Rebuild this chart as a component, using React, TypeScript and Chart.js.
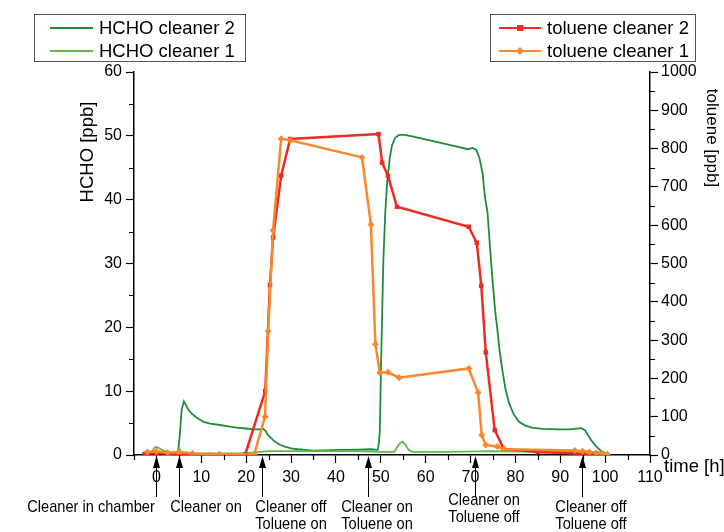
import React, { useEffect, useRef } from 'react';
import { Chart, registerables } from 'chart.js';

Chart.register(...registerables);

const FONT = '"Liberation Sans", Arial, Helvetica, sans-serif';

// HCHO cleaner 2 (left axis, ppb)
const hchoC2Time = [-3.2, -1, 0, 2, 4.8, 5.2, 5.6, 6.1, 6.6, 7.2, 8, 8.7, 9.5, 10.5, 12, 14.2, 16, 17.9, 20, 21.5, 23, 23.8, 24.3, 24.9, 25.6, 26.4, 27.5, 28.6, 30, 31.5, 35, 41, 45, 47.7, 49.3, 49.6, 49.8, 50.0, 50.3, 50.6, 51.0, 51.4, 52.0, 52.5, 53.2, 54, 55, 57, 60.2, 65.3, 69.4, 70.5, 71.3, 72, 72.7, 73.2, 73.8, 74.3, 74.9, 75.5, 76, 76.5, 77.1, 77.8, 78.6, 79.6, 80.8, 82.2, 83.7, 86, 89.6, 92, 94.7, 95.5, 96.2, 96.9, 97.8, 98.8, 99.5, 100];
const hchoC2Ppb = [0.3, 0.3, 0.4, 0.3, 0.4, 3, 7, 8.4, 7.8, 7.0, 6.4, 6.0, 5.6, 5.2, 4.9, 4.7, 4.5, 4.3, 4.15, 4.0, 4.0, 4.1, 3.8, 3.1, 2.6, 2.1, 1.6, 1.3, 1.05, 0.9, 0.7, 0.8, 0.85, 0.9, 0.8, 2, 4, 12, 22, 31, 38, 42.5, 46.5, 48.5, 49.7, 50.1, 50.2, 49.9, 49.4, 48.6, 47.9, 48.1, 47.8, 46.5, 44.1, 40.5, 37.9, 33, 27.4, 22.5, 19.6, 16.2, 13.3, 10.3, 8.1, 6.4, 5.2, 4.6, 4.3, 4.1, 4.0, 4.0, 4.2, 3.9, 3.1, 2.3, 1.5, 0.8, 0.4, 0.3];

// HCHO cleaner 1 (left axis, ppb)
const hchoC1Time = [-3.2, -1, -0.6, -0.1, 0.5, 1.5, 3, 4.8, 5.1, 5.5, 10, 20, 22, 25, 35, 45, 50, 53, 53.7, 54.3, 54.9, 55.5, 56.2, 57, 65, 75, 85, 95, 100];
const hchoC1Ppb = [0.2, 0.4, 1.0, 1.3, 1.1, 0.7, 0.4, 0.4, 1.0, 0.4, 0.2, 0.3, 0.4, 0.6, 0.6, 0.6, 0.5, 0.5, 1.3, 1.9, 2.1, 1.6, 0.8, 0.5, 0.5, 0.6, 0.5, 0.5, 0.4];

// toluene cleaner 2 (right axis, ppb)
const tolC2Time = [-2.5, 0, 5, 12, 19.8, 24.25, 25.3, 26, 27.8, 29.8, 49.5, 50.3, 51.6, 53.6, 69.6, 71.4, 72.4, 73.4, 75.4, 77.4, 85, 95, 99];
const tolC2Ppb = [3, 5, 2, 0, 2, 167, 444, 568, 729, 825, 838, 763, 729, 648, 596, 554, 442, 268, 65, 16, 8, 3, 1];

// toluene cleaner 1 (right axis, ppb)
const tolC1Time = [-2, 0, 2.5, 5, 8, 14, 21.8, 24.2, 24.9, 26, 27.8, 29.8, 45.8, 47.8, 48.8, 49.8, 51.6, 54.1, 69.6, 71.7, 72.5, 73.4, 76, 77.4, 93.2, 95, 96.5, 98, 99.5, 100.5];
const tolC1Ppb = [8, 10, 6, 8, 4, 2, 2, 100, 324, 587, 826, 822, 777, 602, 289, 215, 216, 202, 226, 163, 52, 26, 22, 15, 12, 10, 8, 6, 3, 2];

const timeTicks = [0, 10, 20, 30, 40, 50, 60, 70, 80, 90, 100, 110];
const timeMinorTicks = [-5, 5, 15, 25, 35, 45, 55, 65, 75, 85, 95, 105];
const hchoTicks = [0, 10, 20, 30, 40, 50, 60];
const hchoMinorTicks = [5, 15, 25, 35, 45, 55];
const tolueneTicks = [0, 100, 200, 300, 400, 500, 600, 700, 800, 900, 1000];
const tolueneMinorTicks = [50, 150, 250, 350, 450, 550, 650, 750, 850, 950];

const eventTimes = [0, 5.1, 23.6, 47.2, 70.9, 94.9];
const eventLabels = [
  ['Cleaner in chamber'],
  ['Cleaner on'],
  ['Cleaner off', 'Toluene on'],
  ['Cleaner on', 'Toluene on'],
  ['Cleaner on', 'Toluene off'],
  ['Cleaner off', 'Toluene off'],
];

const C_HCHO2 = '#1f8b3b';
const C_HCHO1 = '#5cbc45';
const C_TOL2 = '#ee2a24';
const C_TOL1 = '#f7882d';

const zip = (xs: number[], ys: number[]) => xs.map((x, i) => ({ x, y: ys[i] }));

const overlay = {
  id: 'overlay',
  afterDraw(chart: any) {
    const ctx: CanvasRenderingContext2D = chart.ctx;
    const xs = chart.scales.x;
    const yl = chart.scales.y;
    const yr = chart.scales.y2;
    const a = chart.chartArea;
    ctx.save();
    ctx.strokeStyle = '#000';
    ctx.fillStyle = '#000';
    ctx.lineWidth = 1.2;
    // minor ticks
    ctx.beginPath();
    timeMinorTicks.forEach((v) => {
      const p = Math.round(xs.getPixelForValue(v)) + 0.5;
      ctx.moveTo(p, a.bottom);
      ctx.lineTo(p, a.bottom + 5);
    });
    hchoMinorTicks.forEach((v) => {
      const p = Math.round(yl.getPixelForValue(v)) + 0.5;
      ctx.moveTo(a.left, p);
      ctx.lineTo(a.left - 5, p);
    });
    tolueneMinorTicks.forEach((v) => {
      const p = Math.round(yr.getPixelForValue(v)) + 0.5;
      ctx.moveTo(a.right, p);
      ctx.lineTo(a.right + 5, p);
    });
    ctx.stroke();

    // legends
    const legend = (bx: number, by: number, bw: number, bh: number, lx0: number, lx1: number, tx: number, items: any[]) => {
      ctx.save();
      ctx.strokeStyle = '#555';
      ctx.lineWidth = 1;
      ctx.strokeRect(bx + 0.5, by + 0.5, bw, bh);
      ctx.font = `18.5px ${FONT}`;
      ctx.textBaseline = 'middle';
      ctx.textAlign = 'left';
      items.forEach((it) => {
        ctx.strokeStyle = it.color;
        ctx.lineWidth = it.w;
        ctx.beginPath();
        ctx.moveTo(lx0, it.y);
        ctx.lineTo(lx1, it.y);
        ctx.stroke();
        ctx.fillStyle = it.color;
        const mx = (lx0 + lx1) / 2;
        if (it.marker === 'rect') {
          ctx.fillRect(mx - 3, it.y - 3, 6, 6);
        } else if (it.marker === 'diamond') {
          ctx.beginPath();
          ctx.moveTo(mx, it.y - 4);
          ctx.lineTo(mx + 4, it.y);
          ctx.lineTo(mx, it.y + 4);
          ctx.lineTo(mx - 4, it.y);
          ctx.closePath();
          ctx.fill();
        }
        ctx.fillStyle = '#000';
        ctx.fillText(it.label, tx, it.y + 1);
      });
      ctx.restore();
    };
    legend(34, 14, 211, 47, 50, 93, 99, [
      { label: 'HCHO cleaner 2', color: C_HCHO2, w: 2, y: 28 },
      { label: 'HCHO cleaner 1', color: C_HCHO1, w: 2, y: 51 },
    ]);
    legend(490, 14, 205, 47, 499, 541, 547, [
      { label: 'toluene cleaner 2', color: C_TOL2, w: 2, y: 28, marker: 'rect' },
      { label: 'toluene cleaner 1', color: C_TOL1, w: 2, y: 51, marker: 'diamond' },
    ]);

    // axis titles
    ctx.fillStyle = '#000';
    ctx.textAlign = 'center';
    ctx.textBaseline = 'middle';
    ctx.font = `18.5px ${FONT}`;
    ctx.save();
    ctx.translate(88, 152);
    ctx.rotate(-Math.PI / 2);
    ctx.fillText('HCHO [ppb]', 0, 0);
    ctx.restore();
    ctx.save();
    ctx.font = `17px ${FONT}`;
    ctx.translate(712, 138);
    ctx.rotate(Math.PI / 2);
    ctx.fillText('toluene [ppb]', 0, 0);
    ctx.restore();
    ctx.textAlign = 'left';
    ctx.fillText('time [h]', 664, 467);

    // event arrows
    ctx.lineWidth = 1;
    eventTimes.forEach((t) => {
      const p = Math.round(xs.getPixelForValue(t)) + 0.5;
      ctx.beginPath();
      ctx.moveTo(p, 497);
      ctx.lineTo(p, 466);
      ctx.stroke();
      ctx.beginPath();
      ctx.moveTo(p, a.bottom + 1);
      ctx.lineTo(p - 3.5, a.bottom + 13);
      ctx.lineTo(p + 3.5, a.bottom + 13);
      ctx.closePath();
      ctx.fill();
    });

    // event labels
    const labelPos = [
      [91, 507],
      [206, 507],
      [291, 507],
      [377, 507],
      [484, 500],
      [591, 507],
    ];
    ctx.font = `17px ${FONT}`;
    ctx.textAlign = 'center';
    eventLabels.forEach((lines, i) => {
      lines.forEach((s, j) => {
        ctx.save();
        ctx.translate(labelPos[i][0], labelPos[i][1] + j * 17.5);
        ctx.scale(0.86, 1);
        ctx.fillText(s, 0, 0);
        ctx.restore();
      });
    });
    ctx.restore();
  },
};

export default function App() {
  const ref = useRef<HTMLCanvasElement>(null);
  useEffect(() => {
    const canvas = ref.current as HTMLCanvasElement;
    const tickFont = { family: FONT, size: 16 };
    const grid = { drawOnChartArea: false, drawTicks: true, tickLength: 8, color: '#000', tickColor: '#000', tickWidth: 1.2 };
    const border = { display: true, color: '#000', width: 1.5 };
    const plain = (v: any) => String(v);
    const chart = new Chart(canvas, {
      type: 'line',
      data: {
        datasets: [
          {
            label: 'toluene cleaner 1',
            data: zip(tolC1Time, tolC1Ppb),
            yAxisID: 'y2',
            borderColor: C_TOL1,
            backgroundColor: C_TOL1,
            borderWidth: 2.5,
            pointStyle: 'rectRot',
            pointRadius: 3.5,
            pointBorderWidth: 0,
            pointBackgroundColor: C_TOL1,
            order: 0,
          },
          {
            label: 'toluene cleaner 2',
            data: zip(tolC2Time, tolC2Ppb),
            yAxisID: 'y2',
            borderColor: C_TOL2,
            backgroundColor: C_TOL2,
            borderWidth: 2.5,
            pointStyle: 'rect',
            pointRadius: 3.2,
            pointBorderWidth: 0,
            pointBackgroundColor: C_TOL2,
            order: 1,
          },
          {
            label: 'HCHO cleaner 1',
            data: zip(hchoC1Time, hchoC1Ppb),
            yAxisID: 'y',
            borderColor: C_HCHO1,
            borderWidth: 1.8,
            pointRadius: 0,
            order: 2,
          },
          {
            label: 'HCHO cleaner 2',
            data: zip(hchoC2Time, hchoC2Ppb),
            yAxisID: 'y',
            borderColor: C_HCHO2,
            borderWidth: 1.8,
            pointRadius: 0,
            order: 3,
          },
        ],
      },
      options: {
        responsive: false,
        animation: false,
        events: [],
        layout: { padding: { top: 72, left: 0, right: 0, bottom: 0 } },
        plugins: { legend: { display: false }, tooltip: { enabled: false } },
        scales: {
          x: {
            type: 'linear',
            position: 'bottom',
            min: -5,
            max: 110,
            afterBuildTicks: (s: any) => {
              s.ticks = timeTicks.map((v) => ({ value: v }));
            },
            afterFit: (s: any) => {
              s.height = 77;
            },
            grid,
            border,
            ticks: { color: '#000', font: tickFont, padding: 5, maxRotation: 0, autoSkip: false, callback: plain },
          },
          y: {
            type: 'linear',
            position: 'left',
            min: 0,
            max: 60,
            afterBuildTicks: (s: any) => {
              s.ticks = hchoTicks.map((v) => ({ value: v }));
            },
            afterFit: (s: any) => {
              s.width = 134;
            },
            grid,
            border,
            ticks: { color: '#000', font: tickFont, padding: 4, autoSkip: false, callback: plain },
          },
          y2: {
            type: 'linear',
            position: 'right',
            min: 0,
            max: 1000,
            afterBuildTicks: (s: any) => {
              s.ticks = tolueneTicks.map((v) => ({ value: v }));
            },
            afterFit: (s: any) => {
              s.width = 74;
            },
            grid,
            border,
            ticks: { color: '#000', font: tickFont, padding: 3, autoSkip: false, callback: plain },
          },
        },
      },
      plugins: [overlay],
    } as any);
    return () => chart.destroy();
  }, []);
  return (
    <canvas
      ref={ref}
      width={724}
      height={532}
      style={{ position: 'fixed', left: 0, top: 0, display: 'block', background: '#fff' }}
    />
  );
}
